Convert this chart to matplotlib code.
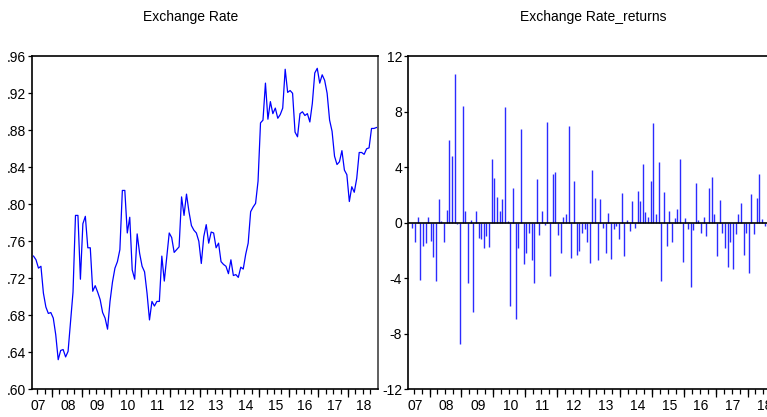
import numpy as np
import pandas as pd
import matplotlib
matplotlib.use("Agg")
import matplotlib.pyplot as plt

plt.rcParams['font.family'] = ['Liberation Sans Narrow', 'Liberation Sans', 'DejaVu Sans']

# monthly exchange rate, 2007M05 - 2018M12
start_month = '2007-05'
rate = [0.744, 0.740, 0.731, 0.733, 0.704, 0.689, 0.682, 0.683, 0.677, 0.659,
        0.632, 0.642, 0.643, 0.635, 0.641, 0.673, 0.705, 0.788, 0.788, 0.719,
        0.779, 0.787, 0.753, 0.753, 0.706, 0.712, 0.705, 0.697, 0.683, 0.677,
        0.665, 0.695, 0.716, 0.731, 0.738, 0.751, 0.815, 0.815,
        0.769, 0.786, 0.729, 0.719, 0.768, 0.747, 0.733, 0.727, 0.704, 0.675,
        0.695, 0.690, 0.695, 0.695, 0.744, 0.717, 0.743, 0.769, 0.764, 0.748,
        0.751, 0.754, 0.808, 0.788, 0.811, 0.792, 0.777, 0.772, 0.769, 0.760,
        0.736, 0.765, 0.778, 0.758, 0.770, 0.769, 0.753, 0.758,
        0.738, 0.735, 0.733, 0.725, 0.740, 0.723, 0.724, 0.721, 0.732, 0.730,
        0.746, 0.758, 0.792, 0.797, 0.801, 0.825, 0.888, 0.891, 0.931, 0.892,
        0.911, 0.898, 0.904, 0.893, 0.897, 0.904, 0.946, 0.921, 0.923, 0.920,
        0.878, 0.873,
        0.898, 0.900, 0.896, 0.898, 0.889, 0.909, 0.942, 0.947, 0.931, 0.940,
        0.934, 0.920, 0.891, 0.879, 0.852, 0.843, 0.846, 0.858, 0.837, 0.832,
        0.803, 0.819, 0.813, 0.828, 0.856, 0.856, 0.854, 0.860, 0.861, 0.882,
        0.882, 0.883]

# returns from 2007M06 (the part that shows in the right panel)
returns = [-0.4, -1.4, 0.4, -4.15, -1.7, -1.45, 0.4, -1.3, -2.5, -4.2,
           1.75, 0.15, -1.35, 0.95, 6.0, 4.8, 10.75, -0.1, -8.7, 8.45,
           0.85, -4.35, 0.2, -6.4, 0.85, -1.1, -1.2, -1.85, -0.95, -1.75,
           4.6, 3.2, 1.85, 0.85, 1.7, 8.35, 0.15, -6.0, 2.5, -6.9,
           -1.8, 6.75, -3.0, -2.2, -0.75, -2.7, -4.35, 3.15, -0.85, 0.85,
           -0.15, 7.3, -3.85, 3.55, 3.65, -0.85, -2.15, 0.45, 0.6, 7.0,
           -2.55, 3.0, -2.3, -2.05, -0.75, -0.45, -1.4, -2.9, 3.8, 1.8,
           -2.65, 1.7, -0.35, -2.15, 0.7, -2.6, -0.45, -0.2, -1.2, 2.15,
           -2.4, 0.2, -0.6, 1.6, -0.35, 2.3, 1.55, 4.25, 0.8, 0.45,
           3.0, 7.2, 0.6, 4.4, -4.2, 2.2, -1.65, 0.85, -1.4, 0.35,
           1.0, 4.6, -2.8, 0.35, -0.45, -4.65, -0.55, 2.85, 0.2, -0.7,
           0.4, -0.95, 2.5, 3.3, 0.6, -2.4, 1.65, -0.7, -1.8, -3.2,
           -1.4, -3.3, -0.8, 0.6, 1.45, -2.3, -0.75, -3.6, 2.1, -0.8,
           1.8, 3.5, 0.3, -0.2]

year_labels = ['07', '08', '09', '10', '11', '12', '13', '14', '15', '16', '17', '18']
left_yticks = [0.60, 0.64, 0.68, 0.72, 0.76, 0.80, 0.84, 0.88, 0.92, 0.96]
right_yticks = [-12, -8, -4, 0, 4, 8, 12]

months = pd.period_range(start_month, periods=len(rate), freq='M')
idx = np.arange(len(months))
month_no = np.array([p.month for p in months])
ret_idx = idx[1:1 + len(returns)]

# eviews style axis: short ticks at quarters, long ones at years, label mid-year
quarter_pos = idx[np.isin(month_no, [1, 4, 7, 10])] - 0.5
year_pos = idx[month_no == 1] - 0.5
label_pos = idx[month_no == 7]

W, H = 767, 417
fig = plt.figure(figsize=(W / 100, H / 100), dpi=100)

ax1 = fig.add_axes([32.3 / W, 27.7 / H, 345.4 / W, 333 / H])
# right panel runs past the picture edge like in the original screenshot
ax2 = fig.add_axes([408.3 / W, 27.7 / H, 371 / W, 333 / H])

blue = '#0000ff'
ax1.plot(idx, rate, color=blue, lw=0.9)
ax2.vlines(ret_idx, 0, returns, color='#2b2bff', lw=1.0)
ax2.axhline(0, color='black', lw=1.2)

ax1.set_ylim(0.60, 0.96)
ax1.set_yticks(left_yticks)
ax1.set_yticklabels([f'{v:.2f}'.lstrip('0') for v in left_yticks])
ax2.set_ylim(-12, 12)
ax2.set_yticks(right_yticks)
ax2.set_yticklabels([str(v) for v in right_yticks])

for ax in (ax1, ax2):
    ax.set_xlim(-0.5, len(rate) - 0.5)
    ax.set_xticks(label_pos)
    ax.set_xticklabels(year_labels)
    ax.set_xticks(quarter_pos, minor=True)
    ax.tick_params(axis='x', which='major', length=0, pad=7, labelsize=10)
    ax.tick_params(axis='x', which='minor', length=3.5, width=0.9, direction='out')
    ax.tick_params(axis='y', length=3, width=0.9, pad=1.5, labelsize=10)
    for s in ax.spines.values():
        s.set_linewidth(1.2)
    ax.spines['right'].set_color('#444444')
    sec = ax.secondary_xaxis('bottom')
    sec.set_xticks(year_pos)
    sec.tick_params(length=5.5, width=0.9, labelbottom=False)
    sec.spines['bottom'].set_visible(False)

fig.text(191 / W, 1 - 17 / H, 'Exchange Rate', ha='center', va='center', fontsize=10)
fig.text(593 / W, 1 - 17 / H, 'Exchange Rate_returns', ha='center', va='center', fontsize=10)

fig.savefig('out.png', dpi=100)
